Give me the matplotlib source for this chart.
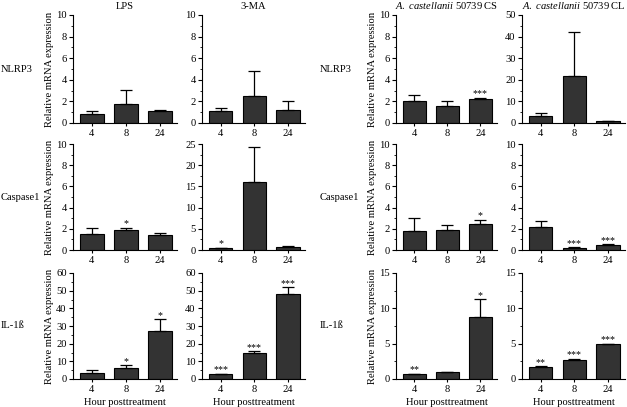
import matplotlib
matplotlib.use("Agg")
import matplotlib.pyplot as plt
import numpy as np

plt.rcParams['font.family'] = ['Liberation Serif', 'DejaVu Serif']
plt.rcParams['mathtext.fontset'] = 'custom'
plt.rcParams['mathtext.rm'] = 'Liberation Serif'
plt.rcParams['mathtext.it'] = 'Liberation Serif:italic'

hours = ["4", "8", "24"]
columns = ["LPS", "3-MA", r"$\mathit{A.\ castellanii}$ 50739 CS", r"$\mathit{A.\ castellanii}$ 50739 CL"]
genes = ["NLRP3", "Caspase1", "IL-1ß"]

# NLRP3
nlrp3_mean = [[0.8, 1.8, 1.1], [1.1, 2.5, 1.25], [2.0, 1.6, 2.2], [3.2, 21.8, 0.7]]
nlrp3_err = [[0.35, 1.3, 0.15], [0.25, 2.35, 0.8], [0.6, 0.45, 0.15], [1.2, 20.2, 0.3]]
nlrp3_sig = [["", "", ""], ["", "", ""], ["", "", "***"], ["", "", ""]]
nlrp3_ymax = [10, 10, 10, 50]
nlrp3_step = [2, 2, 2, 10]

# Caspase1
casp_mean = [[1.55, 1.85, 1.45], [0.4, 16.0, 0.7], [1.75, 1.85, 2.5], [2.2, 0.2, 0.5]]
casp_err = [[0.5, 0.25, 0.15], [0.15, 8.4, 0.2], [1.25, 0.5, 0.35], [0.55, 0.05, 0.05]]
casp_sig = [["", "*", ""], ["*", "", ""], ["", "", "*"], ["", "***", "***"]]
casp_ymax = [10, 25, 10, 10]
casp_step = [2, 5, 2, 2]

# IL-1ß
il_mean = [[3.3, 6.3, 27.0], [2.8, 14.8, 48.0], [0.7, 0.95, 8.8], [1.75, 2.7, 4.9]]
il_err = [[2.0, 1.4, 6.8], [0.2, 0.8, 4.0], [0.05, 0.05, 2.5], [0.1, 0.15, 0.1]]
il_sig = [["", "*", "*"], ["***", "***", "***"], ["**", "", "*"], ["**", "***", "***"]]
il_ymax = [60, 60, 15, 15]
il_step = [10, 10, 5, 5]

rows = [
    (nlrp3_mean, nlrp3_err, nlrp3_sig, nlrp3_ymax, nlrp3_step),
    (casp_mean, casp_err, casp_sig, casp_ymax, casp_step),
    (il_mean, il_err, il_sig, il_ymax, il_step),
]

W, H = 627, 407
fig = plt.figure(figsize=(W / 100, H / 100), dpi=100)

col_x = [(73, 177), (202, 305), (396, 497), (522, 625)]
row_y = [(15, 123), (144, 250), (273, 379)]
fs = 7.6

x = np.arange(len(hours))
for r, (means, errs, sigs, ymaxs, steps) in enumerate(rows):
    yt, yb = row_y[r]
    for c in range(4):
        xl, xr = col_x[c]
        ax = fig.add_axes([xl / W, 1 - yb / H, (xr - xl) / W, (yb - yt) / H])
        m = means[c]
        e = errs[c]
        ax.bar(x, m, width=0.7, color='#333333', edgecolor='black', linewidth=0.8, zorder=2)
        ax.errorbar(x, m, yerr=[np.zeros(3), e], fmt='none', ecolor='black',
                    elinewidth=0.9, capsize=4.5, capthick=0.9, zorder=3)
        for i in range(3):
            if sigs[c][i]:
                ax.annotate(sigs[c][i], (x[i], m[i] + e[i]), xytext=(0, -0.5),
                            textcoords='offset points', ha='center', va='bottom',
                            fontsize=7.2)
        ax.set_xlim(-0.55, 2.5)
        ax.set_ylim(0, ymaxs[c])
        ax.set_yticks(np.arange(0, ymaxs[c] + 0.01, steps[c]))
        ax.set_yticks(np.arange(0, ymaxs[c] + 0.01, steps[c] / 2), minor=True)
        ax.set_xticks(x)
        ax.set_xticklabels(hours)
        for s in ['top', 'right']:
            ax.spines[s].set_visible(False)
        for s in ['left', 'bottom']:
            ax.spines[s].set_linewidth(0.8)
        ax.tick_params(axis='y', which='major', length=3, width=0.8, labelsize=fs, pad=1.5)
        ax.tick_params(axis='y', which='minor', length=1.8, width=0.6)
        ax.tick_params(axis='x', which='major', length=2, width=0.8, labelsize=fs, pad=2)
        if c in (0, 2):
            ax.set_ylabel("Relative mRNA expression", fontsize=fs)
            ax.yaxis.set_label_coords(-0.185, 0.5)
        if r == 0:
            ax.set_title(columns[c], fontsize=fs, pad=4)
        if r == 2:
            ax.set_xlabel("Hour posttreatment", fontsize=fs, labelpad=3)
    ymid = 1 - ((yt + yb) / 2) / H
    fig.text(1 / W, ymid, genes[r], fontsize=fs, ha='left', va='center')
    fig.text(320 / W, ymid, genes[r], fontsize=fs, ha='left', va='center')

fig.savefig("out.png", dpi=100)
